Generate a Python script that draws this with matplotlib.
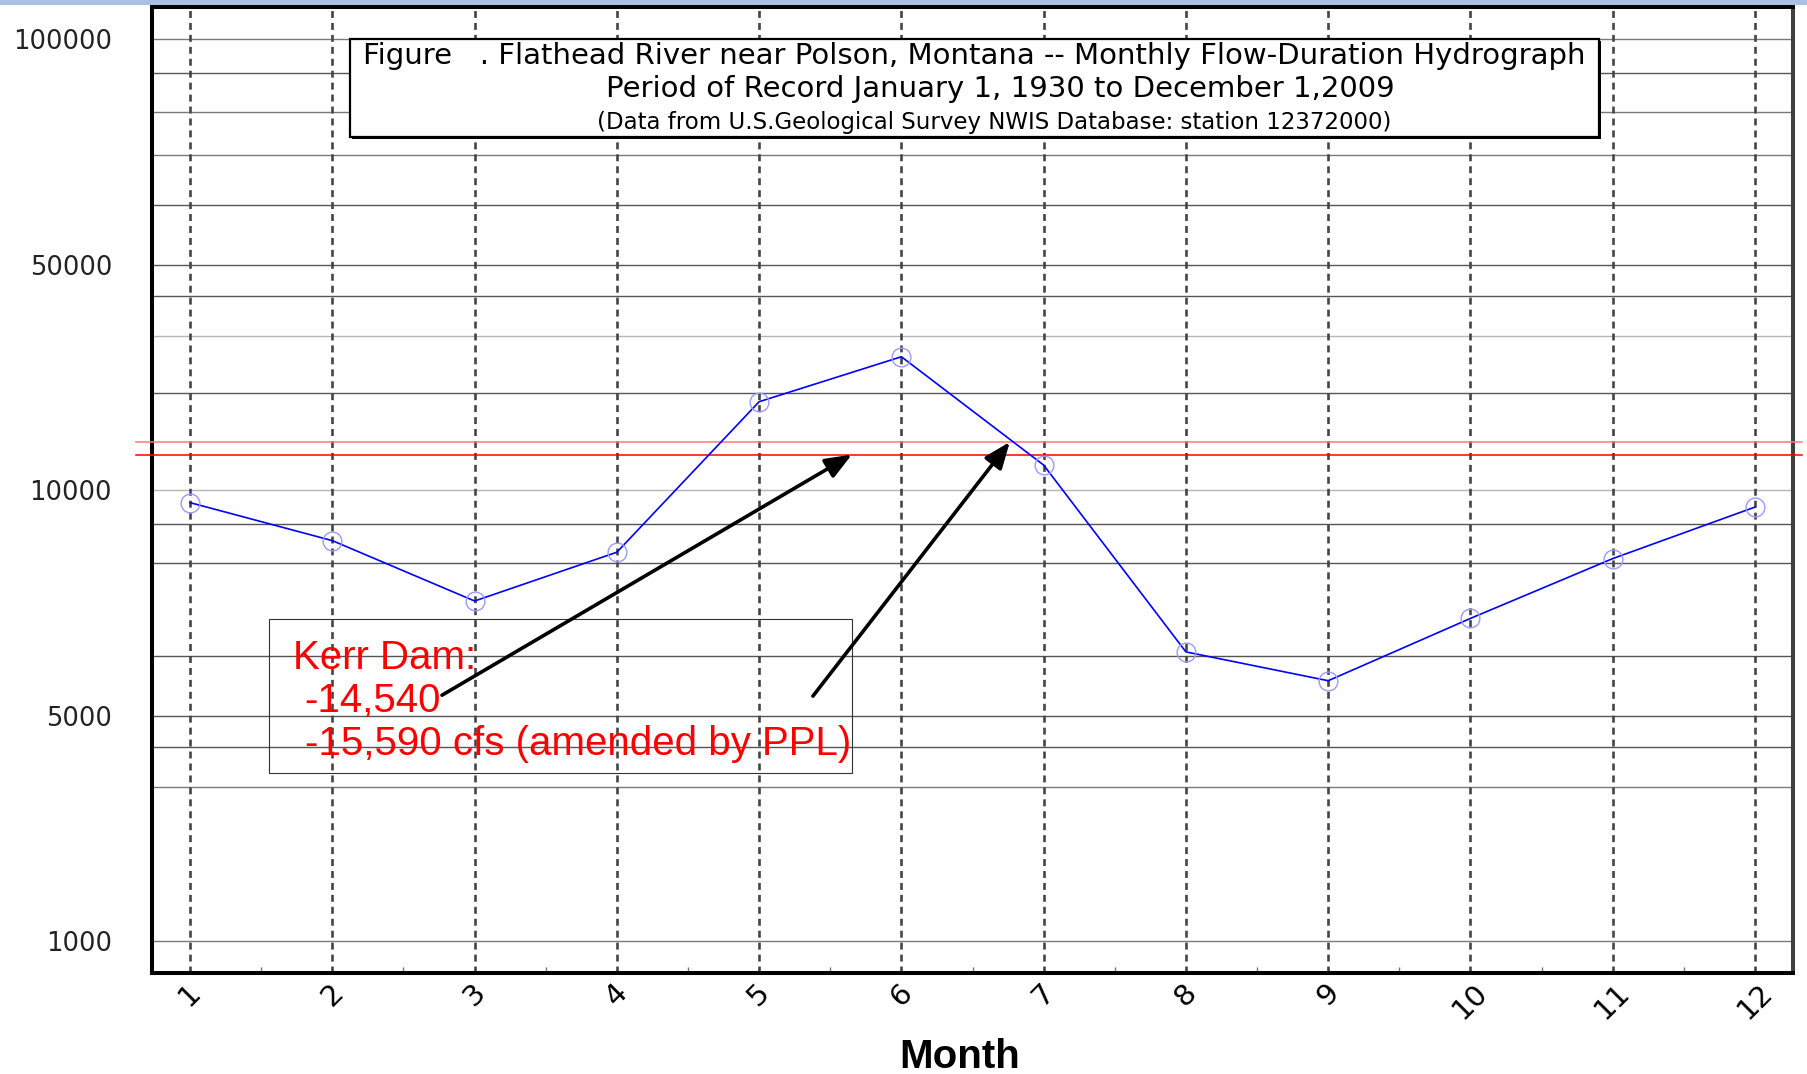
import numpy as np
import matplotlib
matplotlib.use("Agg")
import matplotlib.pyplot as plt
import matplotlib.patches as mpatches
from matplotlib.ticker import FixedLocator, NullLocator

plt.rcParams["lines.scale_dashes"] = False

months = np.arange(1, 13)
flow = [9620, 8560, 7110, 8260, 18780, 25890, 11950, 6080, 5565, 6740, 8100, 9490]
kerr_lines = [14090, 12880]          # the two red reference lines
ytick_vals = [1000, 5000, 10000, 50000, 100000]
grid_dark = [90000, 60000, 50000, 40000, 20000, 9000, 8000, 6000, 5000, 4000]
grid_mid = [100000, 80000, 70000, 3000, 1000]
grid_light = [30000, 10000]

# the chart's value axis: 1000 / 5000 / 10000 / 50000 / 100000 equally spaced,
# logarithmic inside each step
knot_vals = np.log10([200, 1000, 5000, 10000, 50000, 100000, 200000])
knot_pos = np.arange(-1, 6)


def fwd(v):
    v = np.clip(np.asarray(v, dtype=float), 1e-6, None)
    return np.interp(np.log10(v), knot_vals, knot_pos)


def inv(p):
    return 10 ** np.interp(p, knot_pos, knot_vals)


fig = plt.figure(figsize=(18.08, 10.74), dpi=100)
fig.patches.append(mpatches.Rectangle((0, 1 - 5 / 1074), 1, 5 / 1074, transform=fig.transFigure,
                                      facecolor="#a9c0e6", edgecolor="none"))
ax = fig.add_axes([0.0841, 0.0940, 0.9076, 0.8995])
ax.set_yscale("function", functions=(fwd, inv))
ax.set_ylim(796, 110340)
ax.set_xlim(0.733, 12.267)

# grid
for v in grid_dark:
    ax.axhline(v, color="#555555", lw=1.0, zorder=1)
for v in grid_mid:
    ax.axhline(v, color="#7a7a7a", lw=1.0, zorder=1)
for v in grid_light:
    ax.axhline(v, color="#b5b5b5", lw=1.0, zorder=1)
for m in months:
    ax.axvline(m, color="#454545", lw=1.9, dashes=(5, 3.6), zorder=2)

# Kerr Dam lines, running a little past both spines
ax.axhline(kerr_lines[0], xmin=-0.0098, xmax=1.0055, color="#f47a7a", lw=1.1, clip_on=False, zorder=3)
ax.axhline(kerr_lines[1], xmin=-0.0098, xmax=1.0055, color="#ff0000", lw=1.1, clip_on=False, zorder=3)

ax.plot(months, flow, color="#0000ff", lw=1.2, marker="o", ms=13.5, mfc="none",
        mec="#9a9aff", mew=1.0, zorder=5)

# ticks
ax.set_xticks(months)
ax.set_xticklabels([str(m) for m in months], rotation=45, ha="center", fontsize=21)
ax.set_xticks(np.arange(1.5, 12, 1), minor=True)
ax.tick_params(axis="x", which="major", length=0, pad=4)
ax.tick_params(axis="x", which="minor", direction="in", length=4, width=1.0, color="#777777")
ax.yaxis.set_major_locator(FixedLocator(ytick_vals))
ax.yaxis.set_minor_locator(NullLocator())
ax.set_yticklabels([str(v) for v in ytick_vals])
ax.tick_params(axis="y", length=0, pad=28.8, labelsize=18.5, labelcolor="#222222")

for name, s in ax.spines.items():
    s.set_linewidth(2.9)
    s.set_color("#404040" if name == "right" else "black")

ax.set_xlabel("Month", fontsize=29, fontweight="bold", family="Liberation Sans")
ax.xaxis.set_label_coords(0.4924, -0.087)
ax.xaxis.label.set_va("center")

# title box
ax.add_patch(mpatches.Rectangle((0.1219, 0.8633), 0.7611, 0.1015, transform=ax.transAxes,
                                facecolor="black", edgecolor="none", zorder=6, clip_on=False))
ax.add_patch(mpatches.Rectangle((0.1207, 0.8654), 0.7611, 0.1015, transform=ax.transAxes,
                                facecolor="white", edgecolor="black", lw=1.6, zorder=7, clip_on=False))
ax.text(0.5012, 0.9493, "Figure   . Flathead River near Polson, Montana -- Monthly Flow-Duration Hydrograph",
        transform=ax.transAxes, ha="center", va="center", fontsize=21, zorder=8)
ax.text(0.5168, 0.9147, "Period of Record January 1, 1930 to December 1,2009",
        transform=ax.transAxes, ha="center", va="center", fontsize=21, zorder=8)
ax.text(0.5131, 0.8804, "(Data from U.S.Geological Survey NWIS Database: station 12372000)",
        transform=ax.transAxes, ha="center", va="center", fontsize=16.5, zorder=8)

# Kerr Dam note
ax.add_patch(mpatches.Rectangle((0.0713, 0.2070), 0.3553, 0.1595, transform=ax.transAxes,
                                fill=False, edgecolor="#333333", lw=0.8, zorder=4))
note = dict(transform=ax.transAxes, color="#ff0000", fontsize=29, family="Liberation Sans",
            ha="left", va="baseline", zorder=5)
ax.text(0.0860, 0.3147, "Kerr Dam:", **note)
ax.text(0.0930, 0.2702, "-14,540", **note)
ax.text(0.0930, 0.2257, "-15,590 cfs (amended by PPL)", **note)

arrow = dict(arrowstyle="-|>,head_length=0.8,head_width=0.32", color="black", lw=2.6,
             mutation_scale=20, shrinkA=0, shrinkB=0)
ax.annotate("", xy=(5.652, kerr_lines[1]), xytext=(2.771, 5323), arrowprops=arrow, zorder=6)
ax.annotate("", xy=(6.762, kerr_lines[0]), xytext=(5.378, 5308), arrowprops=arrow, zorder=6)

fig.savefig("out.png", dpi=100)
